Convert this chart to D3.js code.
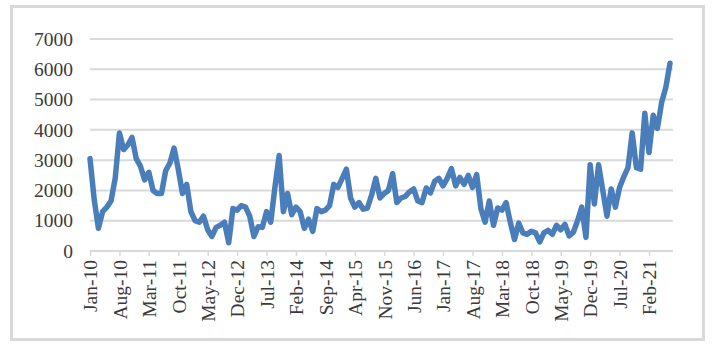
<!DOCTYPE html>
<html>
<head>
<meta charset="utf-8">
<script src="https://cdn.jsdelivr.net/npm/d3@7"></script>
<style>
  html, body { margin: 0; padding: 0; background: #fff; }
  svg { display: block; }
  text { font-family: "Liberation Serif", "DejaVu Serif", serif; fill: #3a3a3a; }
</style>
</head>
<body>
<svg id="chart" width="713" height="347"></svg>
<script>
// Monthly series, Jan-2010 through Jul-2021
const startMonth = new Date(2010, 0, 1);
const values = [
  3050, 1700, 750, 1300, 1450, 1650, 2400, 3900, 3350, 3500, 3750, 3050,
  2800, 2350, 2600, 2000, 1900, 1900, 2650, 2900, 3400, 2700, 1900, 2200,
  1300, 1000, 950, 1150, 700, 480, 780, 850, 950, 270, 1400, 1350,
  1500, 1450, 1150, 480, 800, 780, 1300, 950, 2100, 3150, 1300, 1900,
  1200, 1450, 1300, 750, 1050, 650, 1400, 1300, 1350, 1500, 2200, 2100,
  2400, 2700, 1750, 1450, 1600, 1380, 1420, 1850, 2400, 1750, 1900, 2000,
  2550, 1600, 1750, 1800, 1950, 2050, 1650, 1600, 2080, 1920, 2300, 2400,
  2150, 2400, 2720, 2150, 2430, 2200, 2500, 2100, 2520, 1400, 950, 1650,
  850, 1420, 1350, 1600, 950, 380, 920, 600, 550, 650, 600, 300,
  600, 680, 550, 850, 700, 880, 500, 620, 1000, 1450, 450, 2850,
  1550, 2850, 2000, 1150, 2050, 1450, 2100, 2450, 2750, 3900, 2750, 2700,
  4550, 3250, 4480, 4050, 4900, 5400, 6200
];
const tickLabels = [
  "Jan-10", "Aug-10", "Mar-11", "Oct-11", "May-12", "Dec-12", "Jul-13",
  "Feb-14", "Sep-14", "Apr-15", "Nov-15", "Jun-16", "Jan-17", "Aug-17",
  "Mar-18", "Oct-18", "May-19", "Dec-19", "Jul-20", "Feb-21"
];
const yTicks = [0, 1000, 2000, 3000, 4000, 5000, 6000, 7000];

const fmt = d3.timeFormat("%b-%y");
const categories = values.map((_, i) => fmt(d3.timeMonth.offset(startMonth, i)));

const svg = d3.select("#chart");

// outer chart frame
svg.append("rect")
  .attr("x", 11.5).attr("y", 6.5)
  .attr("width", 692).attr("height", 333)
  .attr("fill", "#fff")
  .attr("stroke", "#d9d9d9").attr("stroke-width", 3);

const plot = { left: 90, right: 673, top: 39, bottom: 251 };

const x = d3.scalePoint()
  .domain(categories)
  .range([plot.left, plot.left + (categories.length - 1) * 4.203]);

const y = d3.scaleLinear()
  .domain([0, 7000])
  .range([plot.bottom, plot.top]);

// horizontal gridlines
svg.append("g")
  .selectAll("line")
  .data(yTicks.filter(d => d > 0))
  .join("line")
  .attr("x1", plot.left).attr("x2", plot.right)
  .attr("y1", d => y(d)).attr("y2", d => y(d))
  .attr("stroke", "#d9d9d9").attr("stroke-width", 2);

// y axis labels
const yAxis = d3.axisLeft(y).tickValues(yTicks).tickFormat(d3.format("d"))
  .tickSize(0).tickPadding(0);
const gy = svg.append("g").attr("transform", `translate(${plot.left - 17},0)`).call(yAxis);
gy.select(".domain").remove();
gy.selectAll("text")
  .style("font-family", null)
  .attr("font-size", 19.5)
  .attr("fill", "#3a3a3a");

// category axis
const xAxis = d3.axisBottom(x).tickValues(tickLabels).tickSize(5).tickSizeOuter(0).tickPadding(6);
const gx = svg.append("g").attr("transform", `translate(0,${plot.bottom})`).call(xAxis);
gx.select(".domain").remove();
gx.append("line")
  .attr("x1", plot.left).attr("x2", plot.right)
  .attr("y1", 0).attr("y2", 0)
  .attr("stroke", "#d9d9d9").attr("stroke-width", 2);
gx.selectAll(".tick line").attr("stroke", "#d9d9d9").attr("stroke-width", 1.5);
gx.selectAll(".tick text")
  .style("font-family", null)
  .attr("font-size", 19.5)
  .attr("fill", "#3a3a3a")
  .attr("transform", "rotate(-90)")
  .attr("text-anchor", "end")
  .attr("x", -9)
  .attr("y", 0)
  .attr("dy", "0.35em");

// series line
const line = d3.line()
  .x((d, i) => x(categories[i]))
  .y(d => y(d));

svg.append("path")
  .datum(values)
  .attr("d", line)
  .attr("fill", "none")
  .attr("stroke", "#4a7ebb")
  .attr("stroke-width", 5.5)
  .attr("stroke-linejoin", "round")
  .attr("stroke-linecap", "round");
</script>
</body>
</html>
